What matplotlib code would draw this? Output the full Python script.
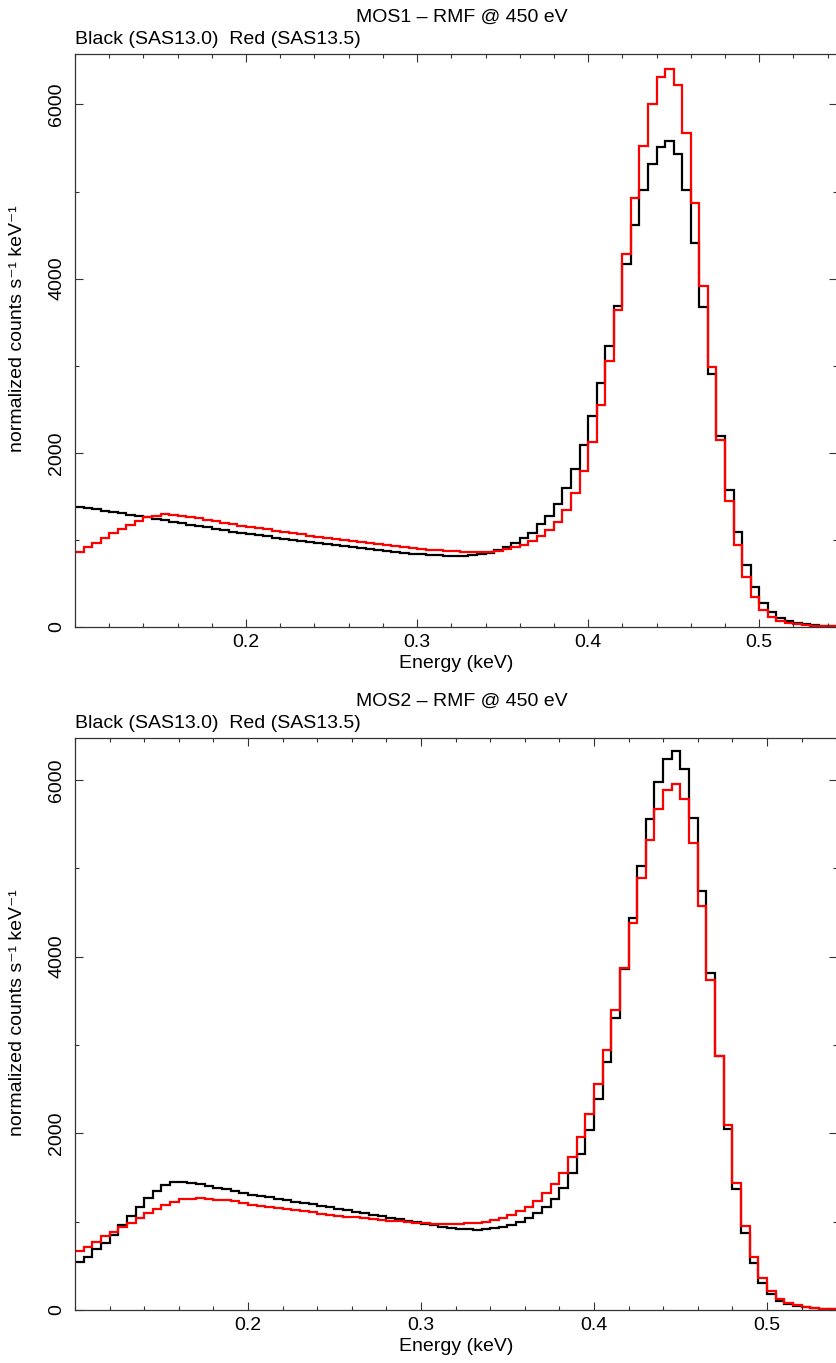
import numpy as np
import matplotlib
matplotlib.use("Agg")
import matplotlib.pyplot as plt
from matplotlib.ticker import MultipleLocator, FixedLocator

plt.rcParams['font.family'] = ['Liberation Sans', 'DejaVu Sans']

# 5 eV channels starting at 0.1 keV
bin_lo = 0.1
bin_width = 0.005
n_bins = 89

# MOS1, black = SAS13.0, red = SAS13.5
mos1_sas130 = [
    1374, 1362, 1350, 1335, 1320, 1305, 1290, 1275, 1258, 1240,
    1224, 1208, 1192, 1176, 1160, 1145, 1130, 1110, 1096, 1080,
    1067, 1053, 1040, 1027, 1014, 1001, 988, 976, 963, 951,
    940, 929, 918, 907, 896, 886, 876, 866, 852, 843,
    835, 828, 822, 818, 816, 818, 826, 838, 855, 880,
    922, 967, 1017, 1075, 1178, 1278, 1412, 1599, 1810, 2089,
    2422, 2804, 3227, 3690, 4163, 4614, 5016, 5322, 5513, 5578,
    5426, 5016, 4411, 3677, 2904, 2192, 1573, 1087, 712, 456,
    279, 169, 107, 72, 46, 30, 20, 14, 10,
]
mos1_sas135 = [
    864, 915, 968, 1018, 1075, 1125, 1171, 1220, 1259, 1278,
    1293, 1288, 1277, 1263, 1247, 1230, 1213, 1196, 1179, 1163,
    1148, 1134, 1120, 1106, 1092, 1078, 1064, 1050, 1036, 1022,
    1010, 998, 986, 974, 962, 950, 939, 928, 916, 905,
    896, 888, 880, 874, 868, 864, 861, 860, 862, 870,
    893, 915, 945, 985, 1040, 1113, 1209, 1343, 1535, 1791,
    2120, 2548, 3053, 3639, 4278, 4928, 5521, 6011, 6317, 6413,
    6221, 5674, 4863, 3914, 2988, 2146, 1450, 941, 578, 348,
    195, 118, 72, 44, 30, 20, 14, 10, 7,
]

# MOS2
mos2_sas130 = [
    540, 596, 687, 762, 849, 962, 1064, 1170, 1264, 1351,
    1415, 1449, 1449, 1438, 1422, 1404, 1385, 1366, 1346, 1326,
    1306, 1290, 1274, 1258, 1242, 1226, 1210, 1194, 1178, 1162,
    1146, 1130, 1113, 1096, 1079, 1062, 1045, 1028, 1011, 994,
    975, 958, 943, 930, 920, 912, 905, 912, 923, 936,
    962, 1000, 1045, 1094, 1162, 1256, 1377, 1547, 1762, 2037,
    2385, 2803, 3302, 3856, 4441, 5026, 5557, 5976, 6237, 6327,
    6120, 5565, 4746, 3811, 2875, 2045, 1370, 868, 528, 309,
    181, 102, 64, 44, 30, 20, 13, 9, 6,
]
mos2_sas135 = [
    668, 717, 773, 838, 886, 936, 988, 1045, 1094, 1143,
    1188, 1226, 1253, 1260, 1262, 1258, 1250, 1240, 1228, 1214,
    1188, 1176, 1164, 1152, 1140, 1128, 1116, 1104, 1092, 1080,
    1069, 1058, 1047, 1037, 1027, 1018, 1010, 1002, 995, 989,
    981, 978, 976, 975, 976, 980, 988, 1000, 1019, 1045,
    1075, 1121, 1170, 1237, 1321, 1426, 1554, 1735, 1955, 2215,
    2558, 2943, 3392, 3867, 4384, 4886, 5320, 5671, 5886, 5954,
    5780, 5289, 4576, 3735, 2875, 2090, 1441, 951, 596, 366,
    219, 121, 80, 55, 36, 24, 16, 11, 8,
]

titles = ["MOS1 \u2013 RMF @ 450 eV", "MOS2 \u2013 RMF @ 450 eV"]
subtitle = "Black (SAS13.0)  Red (SAS13.5)"
x_ticks = [0.2, 0.3, 0.4, 0.5]
y_ticks = [0, 2000, 4000, 6000]
xmax = [0.5455, 0.5405]
ymax = [6580, 6478]

edges = bin_lo + bin_width * np.arange(n_bins + 1)
fs = 14

fig = plt.figure(figsize=(8.37, 13.63), dpi=100)
ax1 = fig.add_axes([0.0896, 0.540, 0.9104, 0.4204])
ax2 = fig.add_axes([0.0896, 0.0389, 0.9104, 0.4199])

panels = [(ax1, mos1_sas130, mos1_sas135), (ax2, mos2_sas130, mos2_sas135)]

for i, (ax, old, new) in enumerate(panels):
    ax.stairs(old, edges, baseline=None, color='black', lw=1.6)
    ax.stairs(new, edges, baseline=None, color='red', lw=1.6)
    ax.set_xlim(0.1, xmax[i])
    ax.set_ylim(0, ymax[i])

    ax.xaxis.set_major_locator(FixedLocator(x_ticks))
    ax.xaxis.set_minor_locator(MultipleLocator(0.02))
    ax.yaxis.set_major_locator(FixedLocator(y_ticks))
    ax.yaxis.set_minor_locator(MultipleLocator(1000))
    ax.tick_params(which='both', direction='in', top=True, right=True,
                   labelsize=fs, width=0.8, color='#333333')
    ax.tick_params(which='major', length=6)
    ax.tick_params(which='minor', length=3)
    ax.tick_params(axis='x', pad=5)
    ax.tick_params(axis='y', pad=7)
    for lab in ax.get_yticklabels():
        lab.set_rotation(90)
        lab.set_va('center')
    for sp in ax.spines.values():
        sp.set_linewidth(0.9)
        sp.set_color('#333333')

    ax.set_xlabel("Energy (keV)", fontsize=fs, labelpad=3)
    ax.set_ylabel("normalized counts s\u207b\u00b9 keV\u207b\u00b9", fontsize=fs)
    ax.yaxis.set_label_coords(-0.064, 0.52)
    ax.annotate(titles[i], xy=(0.5, 1), xycoords='axes fraction',
                xytext=(4, 23), textcoords='offset points',
                ha='center', va='baseline', fontsize=fs)
    ax.annotate(subtitle, xy=(0, 1), xycoords='axes fraction',
                xytext=(0, 7), textcoords='offset points',
                ha='left', va='baseline', fontsize=fs)

fig.savefig("out.png", dpi=100)
